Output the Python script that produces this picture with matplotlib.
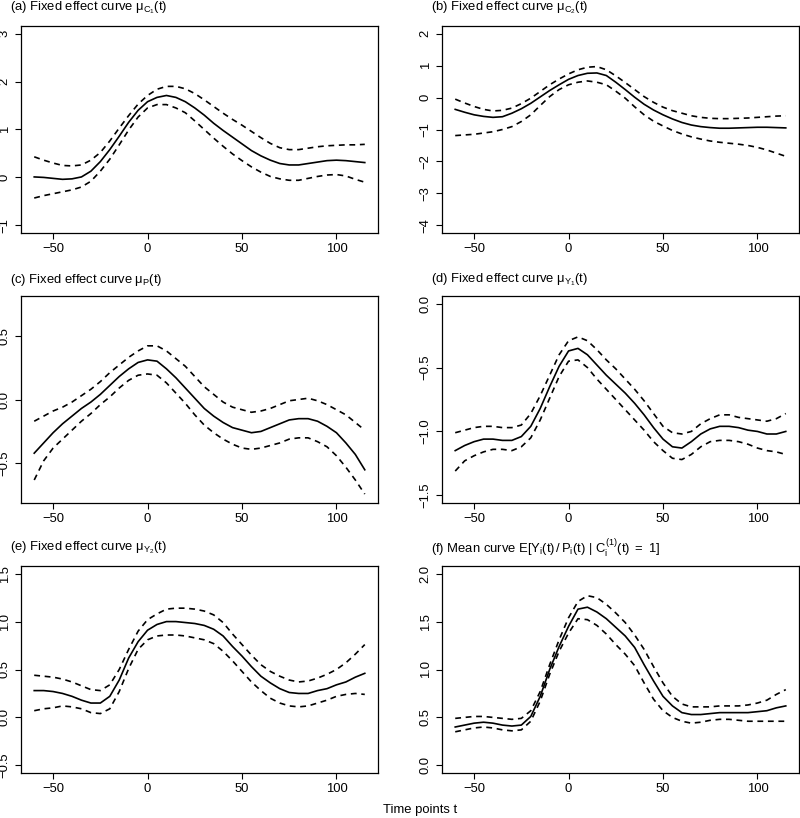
import matplotlib
matplotlib.use("Agg")
import matplotlib.pyplot as plt
import numpy as np

plt.rcParams['font.family'] = ['Liberation Sans', 'DejaVu Sans']
plt.rcParams['mathtext.fontset'] = 'custom'
plt.rcParams['mathtext.rm'] = 'Liberation Sans'
plt.rcParams['mathtext.it'] = 'Liberation Sans'
plt.rcParams['mathtext.bf'] = 'Liberation Sans:bold'

# time grid (every 5 units)
t = list(range(-60, 116, 5))

# (a) mu_C1
a_fit = [0.01, 0.00, -0.02, -0.04, -0.03, 0.01, 0.13, 0.33, 0.58, 0.86, 1.15, 1.40, 1.58, 1.67, 1.71, 1.67, 1.58, 1.45,
         1.30, 1.13, 0.98, 0.84, 0.70, 0.56, 0.45, 0.36, 0.29, 0.26, 0.26, 0.29, 0.32, 0.35, 0.36, 0.35, 0.33, 0.31]
a_up = [0.43, 0.36, 0.30, 0.25, 0.24, 0.26, 0.36, 0.52, 0.76, 1.03, 1.29, 1.53, 1.71, 1.84, 1.90, 1.90, 1.85, 1.75,
        1.62, 1.48, 1.34, 1.21, 1.09, 0.96, 0.83, 0.71, 0.62, 0.58, 0.58, 0.61, 0.64, 0.66, 0.67, 0.68, 0.68, 0.69]
a_lo = [-0.43, -0.38, -0.34, -0.30, -0.26, -0.20, -0.08, 0.13, 0.38, 0.68, 0.99, 1.26, 1.45, 1.52, 1.52, 1.45, 1.35, 1.18,
        1.00, 0.82, 0.65, 0.49, 0.35, 0.22, 0.11, 0.02, -0.03, -0.06, -0.06, -0.02, 0.02, 0.05, 0.06, 0.03, -0.04, -0.10]

# (b) mu_C2
b_fit = [-0.37, -0.46, -0.54, -0.59, -0.62, -0.60, -0.49, -0.35, -0.18, 0.02, 0.22, 0.40, 0.57, 0.69, 0.76, 0.77, 0.69, 0.48,
         0.25, 0.01, -0.21, -0.39, -0.54, -0.67, -0.78, -0.86, -0.91, -0.94, -0.96, -0.96, -0.95, -0.94, -0.93, -0.93, -0.94, -0.95]
b_up = [-0.05, -0.17, -0.28, -0.37, -0.42, -0.40, -0.33, -0.19, -0.02, 0.19, 0.40, 0.58, 0.74, 0.87, 0.95, 0.97, 0.87, 0.68,
        0.47, 0.25, 0.03, -0.15, -0.30, -0.41, -0.49, -0.57, -0.62, -0.65, -0.66, -0.66, -0.65, -0.64, -0.62, -0.60, -0.58, -0.57]
b_lo = [-1.19, -1.17, -1.15, -1.11, -1.07, -1.00, -0.91, -0.75, -0.54, -0.25, 0.03, 0.25, 0.40, 0.48, 0.52, 0.48, 0.40, 0.20,
        -0.02, -0.29, -0.54, -0.74, -0.89, -1.03, -1.14, -1.23, -1.30, -1.36, -1.40, -1.43, -1.46, -1.50, -1.56, -1.64, -1.74, -1.84]

# (c) mu_P
c_fit = [-0.42, -0.34, -0.26, -0.19, -0.13, -0.07, -0.02, 0.04, 0.11, 0.18, 0.24, 0.29, 0.31, 0.30, 0.24, 0.17, 0.09, 0.01,
         -0.07, -0.13, -0.18, -0.22, -0.24, -0.26, -0.25, -0.22, -0.19, -0.16, -0.15, -0.15, -0.17, -0.21, -0.26, -0.34, -0.43, -0.55]
c_up = [-0.17, -0.13, -0.09, -0.06, -0.02, 0.03, 0.08, 0.14, 0.21, 0.27, 0.33, 0.38, 0.42, 0.42, 0.38, 0.32, 0.26, 0.18,
        0.10, 0.04, -0.02, -0.06, -0.08, -0.10, -0.09, -0.07, -0.04, -0.01, 0.00, 0.01, -0.01, -0.04, -0.08, -0.12, -0.18, -0.24]
c_lo = [-0.63, -0.48, -0.38, -0.31, -0.24, -0.17, -0.11, -0.04, 0.02, 0.09, 0.15, 0.19, 0.20, 0.19, 0.13, 0.05, -0.03, -0.12,
        -0.20, -0.26, -0.31, -0.35, -0.38, -0.39, -0.38, -0.36, -0.34, -0.31, -0.30, -0.30, -0.33, -0.37, -0.44, -0.53, -0.63, -0.74]

# (d) mu_Y1
d_fit = [-1.15, -1.11, -1.08, -1.06, -1.06, -1.07, -1.07, -1.04, -0.96, -0.82, -0.65, -0.49, -0.37, -0.35, -0.40, -0.48, -0.56, -0.63,
         -0.70, -0.78, -0.87, -0.97, -1.06, -1.12, -1.13, -1.08, -1.02, -0.98, -0.96, -0.96, -0.97, -0.99, -1.00, -1.02, -1.02, -1.00]
d_up = [-1.01, -0.99, -0.97, -0.96, -0.96, -0.97, -0.97, -0.95, -0.86, -0.72, -0.56, -0.40, -0.29, -0.26, -0.29, -0.36, -0.44, -0.51,
        -0.59, -0.67, -0.76, -0.86, -0.96, -1.01, -1.02, -1.00, -0.94, -0.90, -0.87, -0.87, -0.89, -0.90, -0.91, -0.92, -0.90, -0.86]
d_lo = [-1.31, -1.23, -1.19, -1.16, -1.14, -1.14, -1.15, -1.12, -1.05, -0.91, -0.74, -0.57, -0.45, -0.44, -0.50, -0.59, -0.67, -0.75,
        -0.83, -0.91, -0.99, -1.08, -1.15, -1.21, -1.22, -1.18, -1.12, -1.08, -1.07, -1.07, -1.08, -1.10, -1.13, -1.15, -1.16, -1.18]

# (e) mu_Y2
e_fit = [0.28, 0.28, 0.27, 0.25, 0.22, 0.18, 0.15, 0.15, 0.22, 0.39, 0.62, 0.79, 0.91, 0.97, 1.00, 1.00, 0.99, 0.98,
         0.96, 0.92, 0.85, 0.74, 0.64, 0.53, 0.43, 0.36, 0.30, 0.26, 0.25, 0.25, 0.28, 0.30, 0.34, 0.37, 0.42, 0.46]
e_up = [0.44, 0.43, 0.42, 0.40, 0.37, 0.33, 0.29, 0.28, 0.34, 0.50, 0.71, 0.90, 1.02, 1.08, 1.13, 1.14, 1.14, 1.13,
        1.11, 1.07, 0.99, 0.87, 0.76, 0.65, 0.55, 0.48, 0.43, 0.39, 0.37, 0.38, 0.41, 0.45, 0.50, 0.57, 0.66, 0.76]
e_lo = [0.07, 0.09, 0.10, 0.12, 0.11, 0.09, 0.05, 0.04, 0.09, 0.27, 0.51, 0.71, 0.81, 0.85, 0.86, 0.86, 0.85, 0.83,
        0.81, 0.77, 0.69, 0.59, 0.48, 0.37, 0.28, 0.20, 0.15, 0.12, 0.11, 0.12, 0.15, 0.18, 0.22, 0.24, 0.25, 0.24]

# (f) mean curve of Y/P
f_fit = [0.40, 0.42, 0.44, 0.45, 0.44, 0.42, 0.41, 0.42, 0.51, 0.72, 1.00, 1.24, 1.45, 1.63, 1.65, 1.60, 1.53, 1.44,
         1.35, 1.23, 1.05, 0.88, 0.72, 0.62, 0.55, 0.53, 0.53, 0.54, 0.55, 0.55, 0.55, 0.55, 0.56, 0.57, 0.60, 0.62]
f_up = [0.49, 0.50, 0.51, 0.51, 0.50, 0.49, 0.48, 0.49, 0.57, 0.77, 1.05, 1.31, 1.54, 1.71, 1.77, 1.75, 1.68, 1.59,
        1.49, 1.36, 1.21, 1.03, 0.86, 0.72, 0.64, 0.61, 0.61, 0.61, 0.62, 0.62, 0.62, 0.63, 0.65, 0.68, 0.74, 0.79]
f_lo = [0.35, 0.37, 0.39, 0.40, 0.39, 0.37, 0.36, 0.37, 0.46, 0.67, 0.95, 1.19, 1.38, 1.53, 1.52, 1.46, 1.37, 1.26,
        1.16, 1.04, 0.86, 0.69, 0.57, 0.50, 0.46, 0.44, 0.45, 0.47, 0.48, 0.48, 0.47, 0.46, 0.46, 0.46, 0.46, 0.46]

titles = [r'(a) Fixed effect curve $\mu_{C_1}(t)$',
          r'(b) Fixed effect curve $\mu_{C_2}(t)$',
          r'(c) Fixed effect curve $\mu_{P}(t)$',
          r'(d) Fixed effect curve $\mu_{Y_1}(t)$',
          r'(e) Fixed effect curve $\mu_{Y_2}(t)$',
          r'(f) Mean curve $E[Y_i(t)\,/\,P_i(t)\ |\ C_i^{(1)}(t)\ =\ 1]$']
ylims = [(-1, 3), (-4, 2), (-0.75, 0.75), (-1.5, 0), (-0.5, 1.5), (0, 2)]
yticks = [[-1, 0, 1, 2, 3], [-4, -3, -2, -1, 0, 1, 2], [-0.5, 0.0, 0.5],
          [-1.5, -1.0, -0.5, 0.0], [-0.5, 0.0, 0.5, 1.0, 1.5], [0.0, 0.5, 1.0, 1.5, 2.0]]
yfmt = ['%d', '%d', '%.1f', '%.1f', '%.1f', '%.1f']
curves = [(a_fit, a_up, a_lo), (b_fit, b_up, b_lo), (c_fit, c_up, c_lo),
          (d_fit, d_up, d_lo), (e_fit, e_up, e_lo), (f_fit, f_up, f_lo)]

W, H = 800, 818
fig = plt.figure(figsize=(W / 100, H / 100), dpi=100)

# axes boxes in pixels (left, right, top, bottom)
cols = [(21, 378), (442, 799)]
rows = [(26, 233), (296, 503), (566, 773)]
title_x = [10, 431]
title_y = [8, 280, 548]

fs = 9.4
for k in range(6):
    r, c = divmod(k, 2)
    x0, x1 = cols[c]
    y0, y1 = rows[r]
    ax = fig.add_axes([x0 / W, 1 - y1 / H, (x1 - x0) / W, (y1 - y0) / H])
    fit, up, lo = curves[k]
    ax.plot(t, fit, color='black', lw=1.2)
    ax.plot(t, up, color='black', lw=1.2, dashes=(3.5, 2.8))
    ax.plot(t, lo, color='black', lw=1.2, dashes=(3.5, 2.8))

    lo_y, hi_y = ylims[k]
    pad = 0.04 * (hi_y - lo_y)
    ax.set_ylim(lo_y - pad, hi_y + pad)
    ax.set_xlim(-60 - 7, 115 + 7)
    ax.set_xticks([-50, 0, 50, 100])
    ax.set_yticks(yticks[k])
    ax.set_yticklabels([(yfmt[k] % v).replace('-', '\u2212') for v in yticks[k]])
    ax.tick_params(axis='both', direction='out', length=4.3, width=0.8, labelsize=fs, pad=3)
    ax.tick_params(axis='y', labelrotation=90)
    for lbl in ax.get_yticklabels():
        lbl.set_va('center')
    for s in ax.spines.values():
        s.set_linewidth(0.9)

    fig.text(title_x[c] / W, 1 - title_y[r] / H, titles[k], fontsize=fs, ha='left', va='center')

fig.text(420 / W, 1 - 810 / H, 'Time points t', fontsize=fs, ha='center', va='center')

fig.savefig('out.png', dpi=100)
